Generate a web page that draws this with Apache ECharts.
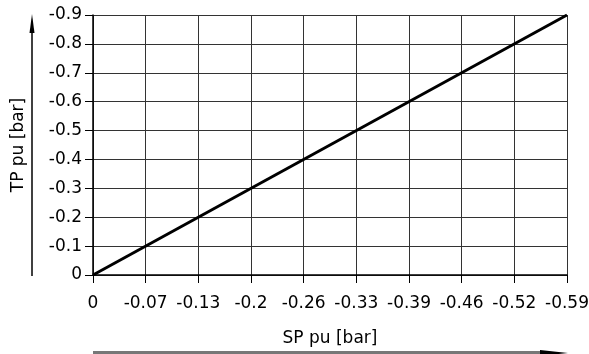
<!doctype html>
<html>
  <head>
    <meta charset="UTF-8" />
    <title>TP vs SP</title>
    <script src="https://cdn.jsdelivr.net/npm/echarts/dist/echarts.min.js"></script>
    <style>
      html, body { margin: 0; padding: 0; background: #fff; }
      #main { width: 589px; height: 354px; }
    </style>
  </head>
  <body>
    <div id="main"></div>
    <script>
      // data
      const spValues = [0, -0.59];
      const tpValues = [0, -0.9];
      const xMin = -0.59;
      const xStep = 0.59 / 9; // ten ticks, labels rounded to 2 decimals
      const yMin = -0.9;
      const yStep = 0.1;
      const xName = "SP pu [bar]";
      const yName = "TP pu [bar]";

      const chart = echarts.init(document.getElementById("main"));
      const font = "DejaVu Sans";

      function fmt(v) {
        const r = +v.toFixed(2);
        return r === 0 ? "0" : String(r);
      }

      const option = {
        animation: false,
        textStyle: { fontFamily: font },
        grid: {
          left: 93,
          right: 22,
          top: 15,
          bottom: 79,
          containLabel: false,
          outerBoundsMode: "none",
        },
        xAxis: {
          type: "value",
          min: xMin,
          max: 0,
          interval: xStep,
          inverse: true,
          name: xName,
          nameLocation: "middle",
          nameGap: 55,
          nameTextStyle: { color: "#000", fontSize: 17, fontFamily: font },
          axisLine: { lineStyle: { color: "#000", width: 1.5 } },
          axisTick: { show: true, length: 8, lineStyle: { color: "#000" } },
          axisLabel: {
            color: "#000",
            fontSize: 17,
            margin: 20,
            formatter: fmt,
          },
          splitLine: { show: true, lineStyle: { color: "#333", width: 1 } },
        },
        yAxis: {
          type: "value",
          min: yMin,
          max: 0,
          interval: yStep,
          inverse: true,
          name: yName,
          nameLocation: "middle",
          nameGap: 66,
          nameRotate: 90,
          nameTextStyle: { color: "#000", fontSize: 17, fontFamily: font },
          axisLine: { show: true, lineStyle: { color: "#000", width: 1.5 } },
          axisTick: { show: true, length: 8, lineStyle: { color: "#000" } },
          axisLabel: {
            color: "#000",
            fontSize: 17,
            margin: 11,
            formatter: fmt,
          },
          splitLine: { show: true, lineStyle: { color: "#333", width: 1 } },
        },
        series: [
          {
            type: "line",
            data: spValues.map((x, i) => [x, tpValues[i]]),
            showSymbol: false,
            lineStyle: { color: "#000", width: 3 },
          },
        ],
        graphic: [
          // arrow beside the y axis name
          {
            type: "line",
            shape: { x1: 32, y1: 276, x2: 32, y2: 28 },
            style: { stroke: "#000", lineWidth: 1.5 },
          },
          {
            type: "polygon",
            shape: { points: [[32, 14], [29.5, 33], [34.5, 33]] },
            style: { fill: "#000" },
          },
          // arrow under the x axis name
          {
            type: "line",
            shape: { x1: 93, y1: 352.5, x2: 545, y2: 352.5 },
            style: { stroke: "#777", lineWidth: 3 },
          },
          {
            type: "polygon",
            shape: { points: [[568, 353], [540, 350], [540, 356]] },
            style: { fill: "#000" },
          },
        ],
      };

      chart.setOption(option);
    </script>
  </body>
</html>
